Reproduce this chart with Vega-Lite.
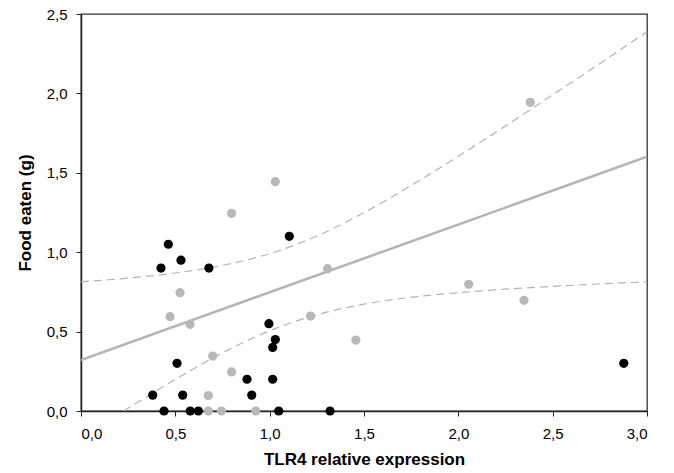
{
  "$schema": "https://vega.github.io/schema/vega-lite/v6.json",
  "autosize": {"type": "none"},
  "padding": {"left": 81, "top": 14, "right": 27, "bottom": 62},
  "width": 566,
  "height": 397,
  "background": "white",
  "config": {
    "font": "Liberation Sans",
    "view": {"stroke": "#333333", "strokeWidth": 1.3},
    "axis": {
      "grid": false,
      "domainColor": "#222222",
      "domainWidth": 1.5,
      "tickColor": "#222222",
      "tickSize": 5,
      "labelFont": "Liberation Sans",
      "labelFontSize": 15,
      "labelColor": "#000000",
      "titleFont": "Liberation Sans",
      "titleFontSize": 17,
      "titleFontWeight": "bold",
      "titleColor": "#000000"
    }
  },
  "datasets": {
    "pts": [
      {"expr": 0.424, "food": 0.90, "group": "A"},
      {"expr": 0.463, "food": 1.05, "group": "A"},
      {"expr": 0.53, "food": 0.95, "group": "A"},
      {"expr": 0.678, "food": 0.90, "group": "A"},
      {"expr": 1.104, "food": 1.10, "group": "A"},
      {"expr": 0.996, "food": 0.55, "group": "A"},
      {"expr": 1.03, "food": 0.45, "group": "A"},
      {"expr": 1.016, "food": 0.40, "group": "A"},
      {"expr": 1.016, "food": 0.20, "group": "A"},
      {"expr": 0.88, "food": 0.20, "group": "A"},
      {"expr": 0.905, "food": 0.10, "group": "A"},
      {"expr": 0.509, "food": 0.30, "group": "A"},
      {"expr": 0.38, "food": 0.10, "group": "A"},
      {"expr": 0.539, "food": 0.10, "group": "A"},
      {"expr": 0.44, "food": 0.0, "group": "A"},
      {"expr": 0.579, "food": 0.0, "group": "A"},
      {"expr": 0.622, "food": 0.0, "group": "A"},
      {"expr": 1.048, "food": 0.0, "group": "A"},
      {"expr": 1.32, "food": 0.0, "group": "A"},
      {"expr": 2.877, "food": 0.30, "group": "A"},
      {"expr": 0.798, "food": 1.245, "group": "B"},
      {"expr": 1.03, "food": 1.444, "group": "B"},
      {"expr": 2.381, "food": 1.944, "group": "B"},
      {"expr": 0.525, "food": 0.745, "group": "B"},
      {"expr": 0.472, "food": 0.594, "group": "B"},
      {"expr": 0.578, "food": 0.546, "group": "B"},
      {"expr": 0.698, "food": 0.346, "group": "B"},
      {"expr": 0.798, "food": 0.246, "group": "B"},
      {"expr": 0.675, "food": 0.097, "group": "B"},
      {"expr": 0.675, "food": 0.0, "group": "B"},
      {"expr": 0.744, "food": 0.0, "group": "B"},
      {"expr": 0.926, "food": 0.0, "group": "B"},
      {"expr": 1.307, "food": 0.896, "group": "B"},
      {"expr": 1.217, "food": 0.598, "group": "B"},
      {"expr": 1.457, "food": 0.447, "group": "B"},
      {"expr": 2.055, "food": 0.798, "group": "B"},
      {"expr": 2.348, "food": 0.697, "group": "B"}
    ],
    "fit": [
      {"expr": 0.0, "food": 0.321},
      {"expr": 3.0, "food": 1.601}
    ],
    "ci": [
      {"expr": 0.0, "food": 0.814, "band": "upper"},
      {"expr": 0.25, "food": 0.837, "band": "upper"},
      {"expr": 0.5, "food": 0.869, "band": "upper"},
      {"expr": 0.75, "food": 0.917, "band": "upper"},
      {"expr": 1.0, "food": 0.991, "band": "upper"},
      {"expr": 1.25, "food": 1.102, "band": "upper"},
      {"expr": 1.5, "food": 1.249, "band": "upper"},
      {"expr": 1.75, "food": 1.420, "band": "upper"},
      {"expr": 2.0, "food": 1.604, "band": "upper"},
      {"expr": 2.25, "food": 1.795, "band": "upper"},
      {"expr": 2.5, "food": 1.991, "band": "upper"},
      {"expr": 2.75, "food": 2.188, "band": "upper"},
      {"expr": 3.0, "food": 2.388, "band": "upper"},
      {"expr": 0.225, "food": 0.0, "band": "lower"},
      {"expr": 0.25, "food": 0.018, "band": "lower"},
      {"expr": 0.5, "food": 0.199, "band": "lower"},
      {"expr": 0.75, "food": 0.366, "band": "lower"},
      {"expr": 1.0, "food": 0.505, "band": "lower"},
      {"expr": 1.25, "food": 0.606, "band": "lower"},
      {"expr": 1.5, "food": 0.673, "band": "lower"},
      {"expr": 1.75, "food": 0.716, "band": "lower"},
      {"expr": 2.0, "food": 0.745, "band": "lower"},
      {"expr": 2.25, "food": 0.767, "band": "lower"},
      {"expr": 2.5, "food": 0.785, "band": "lower"},
      {"expr": 2.75, "food": 0.800, "band": "lower"},
      {"expr": 3.0, "food": 0.814, "band": "lower"}
    ]
  },
  "encoding": {
    "x": {
      "field": "expr", "type": "quantitative",
      "scale": {"domain": [0, 3], "nice": false, "zero": false},
      "axis": {
        "title": "TLR4 relative expression",
        "values": [0, 0.5, 1, 1.5, 2, 2.5, 3],
        "labelExpr": "replace(format(datum.value, '.1f'), '.', ',')",
        "labelPadding": 10,
        "titlePadding": 10
      }
    },
    "y": {
      "field": "food", "type": "quantitative",
      "scale": {"domain": [0, 2.5], "nice": false, "zero": false},
      "axis": {
        "title": "Food eaten (g)",
        "values": [0, 0.5, 1, 1.5, 2, 2.5],
        "labelExpr": "replace(format(datum.value, '.1f'), '.', ',')",
        "labelPadding": 9,
        "titlePadding": 12
      }
    }
  },
  "layer": [
    {
      "data": {"name": "ci"},
      "mark": {"type": "line", "color": "#b4b4b4", "strokeWidth": 1.2, "strokeDash": [8, 5], "interpolate": "monotone", "clip": true},
      "encoding": {"detail": {"field": "band"}}
    },
    {
      "data": {"name": "fit"},
      "mark": {"type": "line", "color": "#b4b4b4", "strokeWidth": 2.5, "clip": true},
      "encoding": {}
    },
    {
      "data": {"name": "pts"},
      "mark": {"type": "point", "filled": true, "opacity": 1, "size": 85, "clip": false},
      "encoding": {
        "color": {
          "field": "group", "type": "nominal",
          "scale": {"domain": ["A", "B"], "range": ["#000000", "#b8b8b8"]},
          "legend": null
        }
      }
    }
  ]
}
